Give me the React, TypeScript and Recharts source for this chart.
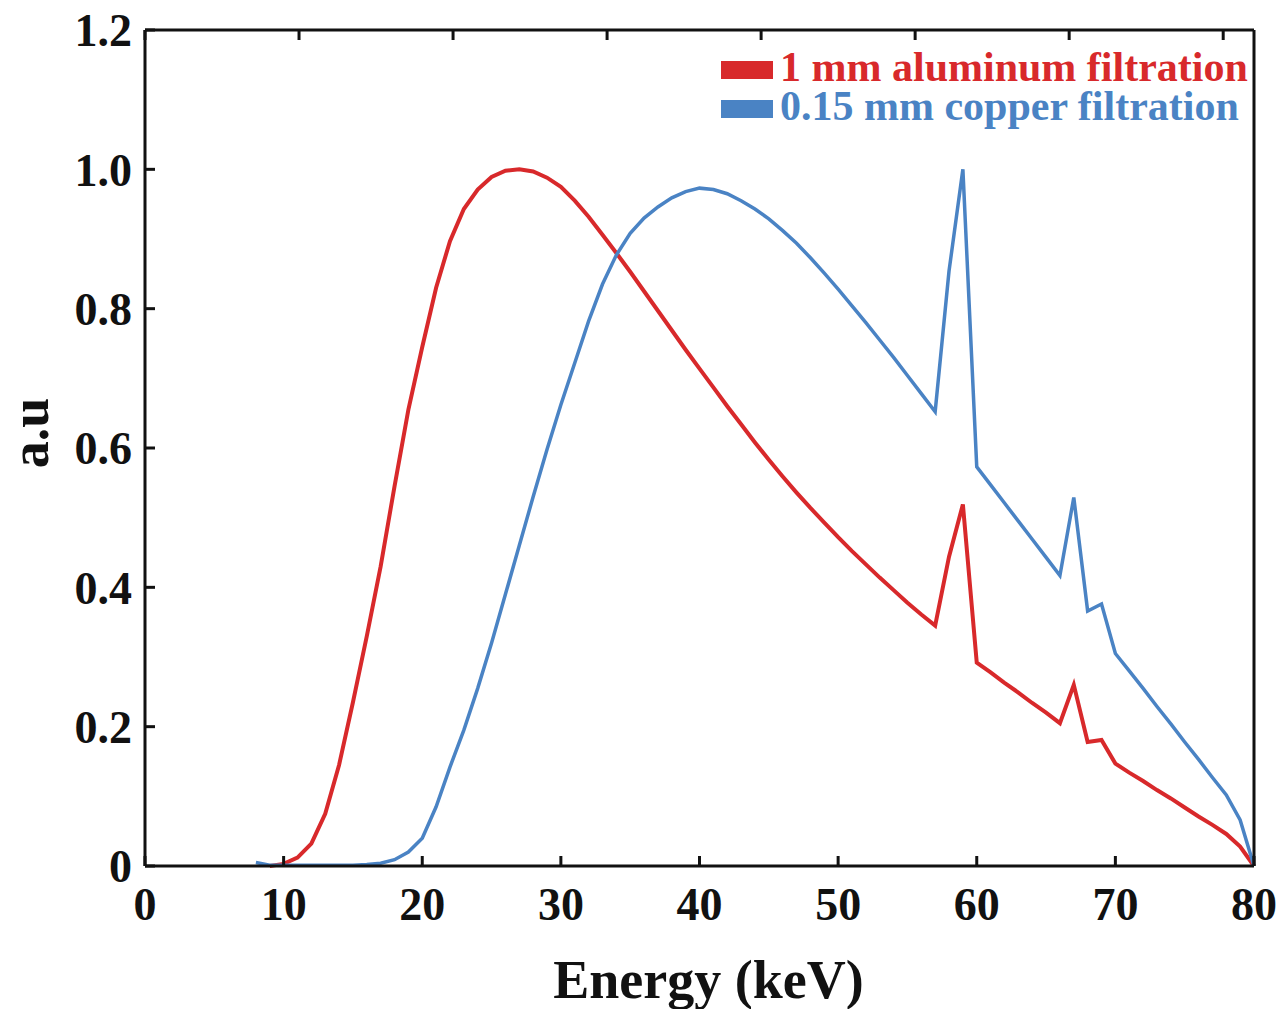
import { Legend, Line, LineChart, XAxis, YAxis } from 'recharts';

// photon energy, keV
const energy = [
  8, 9, 10, 11, 12, 13, 14, 15, 16, 17, 18, 19, 20, 21, 22, 23, 24, 25, 26, 27,
  28, 29, 30, 31, 32, 33, 34, 35, 36, 37, 38, 39, 40, 41, 42, 43, 44, 45, 46, 47,
  48, 49, 50, 51, 52, 53, 54, 55, 56, 57, 58, 59, 60, 61, 62, 63, 64, 65, 66, 67,
  68, 69, 70, 71, 72, 73, 74, 75, 76, 77, 78, 79, 80,
];

// 1 mm Al
const aluminum = [
  null, 0, 0.003, 0.012, 0.032, 0.075, 0.145, 0.235, 0.33, 0.43, 0.545, 0.655, 0.745, 0.83, 0.897, 0.943, 0.971, 0.989, 0.998, 1.0,
  0.997, 0.988, 0.975, 0.955, 0.932, 0.906, 0.88, 0.853, 0.825, 0.797, 0.769, 0.741, 0.714, 0.687, 0.66, 0.634, 0.608, 0.583, 0.559, 0.536,
  0.514, 0.493, 0.472, 0.452, 0.433, 0.414, 0.396, 0.378, 0.361, 0.345, 0.444, 0.519, 0.292, 0.278, 0.263, 0.249, 0.234, 0.22, 0.205, 0.26,
  0.178, 0.181, 0.147, 0.134, 0.122, 0.109, 0.097, 0.084, 0.071, 0.059, 0.046, 0.028, 0,
];

// 0.15 mm Cu
const copper = [
  0.005, 0.001, 0.001, 0.001, 0.001, 0.001, 0.001, 0.001, 0.002, 0.004, 0.009, 0.02, 0.04, 0.085, 0.142, 0.195, 0.255, 0.32, 0.39, 0.46,
  0.53, 0.598, 0.662, 0.722, 0.782, 0.835, 0.877, 0.908, 0.93, 0.946, 0.959, 0.968, 0.973, 0.971, 0.965, 0.955, 0.943, 0.929, 0.912, 0.894,
  0.873, 0.851, 0.828, 0.804, 0.78, 0.755, 0.73, 0.704, 0.678, 0.652, 0.854, 1.0, 0.573, 0.547, 0.521, 0.495, 0.469, 0.443, 0.417, 0.529,
  0.366, 0.376, 0.305, 0.28, 0.255, 0.229, 0.204, 0.178, 0.153, 0.127, 0.102, 0.066, 0,
];

const energyTicks = [0, 10, 20, 30, 40, 50, 60, 70, 80];
const auTicks = [0, 0.2, 0.4, 0.6, 0.8, 1.0, 1.2];

const RED = '#d8292b';
const BLUE = '#4a83c4';
const INK = '#111';
const FONT = '"Liberation Serif", "Times New Roman", serif';
const AXIS = { stroke: INK, strokeWidth: 3 };
const TICK_LEN = 10;
const TICK_FONT = 46;
const X_GAP = 21;
const Y_GAP = 13;

const data = energy.map((e, i) => ({
  energy: e,
  aluminum: aluminum[i],
  copper: copper[i],
}));

const fmtAu = (v: number) => (v === 0 ? '0' : v.toFixed(1));

// ticks point inward on every side of the frame
function BottomTick({ x, y, payload }: any) {
  return (
    <g>
      <line x1={x} x2={x} y1={y - X_GAP} y2={y - X_GAP - TICK_LEN} stroke={INK} strokeWidth={3} />
      <text x={x} y={y} dy="0.71em" textAnchor="middle" fontFamily={FONT} fontWeight="bold" fontSize={TICK_FONT} fill={INK}>
        {payload.value}
      </text>
    </g>
  );
}

function LeftTick({ x, y, payload }: any) {
  return (
    <g>
      <line x1={x + Y_GAP} x2={x + Y_GAP + TICK_LEN} y1={y} y2={y} stroke={INK} strokeWidth={3} />
      <text x={x} y={y} dy="0.355em" textAnchor="end" fontFamily={FONT} fontWeight="bold" fontSize={TICK_FONT} fill={INK}>
        {fmtAu(payload.value)}
      </text>
    </g>
  );
}

function TopTick({ x, y }: any) {
  return <line x1={x} x2={x} y1={y} y2={y + TICK_LEN} stroke={INK} strokeWidth={3} />;
}

function RightTick({ x, y }: any) {
  return <line x1={x} x2={x - TICK_LEN} y1={y} y2={y} stroke={INK} strokeWidth={3} />;
}

function LegendBox({ payload }: any) {
  return (
    <div>
      {(payload || []).map((entry: any) => (
        <div key={entry.value} style={{ display: 'flex', alignItems: 'center', height: 39 }}>
          <span
            style={{ width: 52, height: 18, marginTop: 4, marginRight: 7, background: entry.color }}
          />
          <span
            style={{
              color: entry.color,
              fontFamily: FONT,
              fontWeight: 'bold',
              fontSize: 42,
              lineHeight: '39px',
              whiteSpace: 'nowrap',
            }}
          >
            {entry.value}
          </span>
        </div>
      ))}
    </div>
  );
}

export default function App() {
  return (
    <div style={{ position: 'absolute', left: 0, top: 0, background: '#fff' }}>
      <LineChart
        width={1287}
        height={1009}
        data={data}
        margin={{ top: 29, right: 32, bottom: 0, left: 0 }}
      >
        <XAxis
          dataKey="energy"
          type="number"
          domain={[0, 80]}
          ticks={energyTicks}
          interval={0}
          height={143}
          axisLine={AXIS}
          tickLine={false}
          tickSize={0}
          tickMargin={X_GAP}
          tick={<BottomTick />}
          label={{
            content: ({ viewBox }: any) => (
              <text
                x={viewBox.x + viewBox.width / 2 + 9}
                y={viewBox.y + 132}
                textAnchor="middle"
                fontFamily={FONT}
                fontWeight="bold"
                fontSize={54}
                fill={INK}
              >
                Energy (keV)
              </text>
            ),
          }}
        />
        <XAxis
          xAxisId="top"
          orientation="top"
          type="number"
          domain={[0, 80]}
          ticks={energyTicks}
          interval={0}
          height={1}
          axisLine={AXIS}
          tickLine={false}
          tickSize={0}
          tickMargin={0}
          tick={<TopTick />}
        />
        <YAxis
          type="number"
          domain={[0, 1.2]}
          ticks={auTicks}
          interval={0}
          width={145}
          axisLine={AXIS}
          tickLine={false}
          tickSize={0}
          tickMargin={Y_GAP}
          tick={<LeftTick />}
          label={{
            content: ({ viewBox }: any) => {
              const cx = 48;
              const cy = viewBox.y + viewBox.height / 2 - 15;
              return (
                <text
                  x={cx}
                  y={cy}
                  transform={`rotate(-90, ${cx}, ${cy})`}
                  textAnchor="middle"
                  fontFamily={FONT}
                  fontWeight="bold"
                  fontSize={54}
                  fill={INK}
                >
                  a.u
                </text>
              );
            },
          }}
        />
        <YAxis
          yAxisId="right"
          orientation="right"
          type="number"
          domain={[0, 1.2]}
          ticks={auTicks}
          interval={0}
          width={1}
          axisLine={AXIS}
          tickLine={false}
          tickSize={0}
          tickMargin={0}
          tick={<RightTick />}
        />
        <Legend
          layout="vertical"
          align="center"
          verticalAlign="middle"
          itemSorter="dataKey"
          wrapperStyle={{ left: 721, top: 48, width: 'auto', height: 'auto' }}
          content={LegendBox}
        />
        <Line
          type="linear"
          dataKey="aluminum"
          name="1 mm aluminum filtration"
          stroke={RED}
          strokeWidth={4}
          dot={false}
          isAnimationActive={false}
        />
        <Line
          type="linear"
          dataKey="copper"
          name="0.15 mm copper filtration"
          stroke={BLUE}
          strokeWidth={3.5}
          dot={false}
          isAnimationActive={false}
        />
      </LineChart>
    </div>
  );
}
